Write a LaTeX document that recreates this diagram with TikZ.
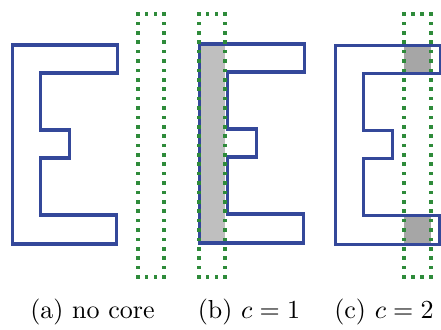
\documentclass[tikz,border=0pt]{standalone}
\usetikzlibrary{calc}
\definecolor{eblue}{RGB}{52,72,154}
\definecolor{cgreen}{RGB}{46,139,58}
\tikzset{eline/.style={draw=eblue, line width=3.2pt, line join=miter},
  coredot/.style={fill=cgreen},
  shade/.style={fill=#1, draw=none},
  captext/.style={anchor=base, scale=2.6},
  ebox/.pic={
    \draw[eline] (0,0) -- (105,0) -- (105,28) -- (28,28) -- (28,85) -- (57,85)
      -- (57,113) -- (28,113) -- (28,170) -- (104,170) -- (104,199) -- (0,199) -- cycle;
  }}
% dotted core outline: square dots, one on every corner
\newcommand{\coreside}[3]{%
  \foreach \i in {0,...,#3}
    \fill[coredot] ($(#1)!\i/#3!(#2)$) ++(-1.8,-1.8) rectangle ++(3.6,3.6);}
\newcommand{\corebox}[4]{%
  \coreside{#1,#2}{#3,#2}{3}\coreside{#1,#4}{#3,#4}{3}%
  \coreside{#1,#2}{#1,#4}{28}\coreside{#3,#2}{#3,#4}{28}}

\begin{document}
\begin{tikzpicture}[x=1pt, y=-1pt]
  \useasboundingbox (0,0) rectangle (441,329);
  % (a) no core
  \pic at (12.7,45) {ebox};
  \corebox{138}{14}{164}{277}
  % (b) one core column over the spine
  \fill[shade=gray!50] (199.5,44) rectangle (225,243);
  \pic at (199.5,44) {ebox};
  \corebox{199}{14}{225}{277}
  % (c) core column through the top and bottom bars
  \fill[shade=gray!70] (404,45.5) rectangle (431,73.5);
  \fill[shade=gray!70] (404,215.5) rectangle (431,244.5);
  \pic at (335.7,45.5) {ebox};
  \corebox{404}{14}{431}{277}
  % captions
  \node[captext] (capa) at (92.5,318) {(a) no core};
  \node[captext] (capb) at (249,318) {(b) $c=1$};
  \node[captext] (capc) at (384,318) {(c) $c=2$};
\end{tikzpicture}
\end{document}
